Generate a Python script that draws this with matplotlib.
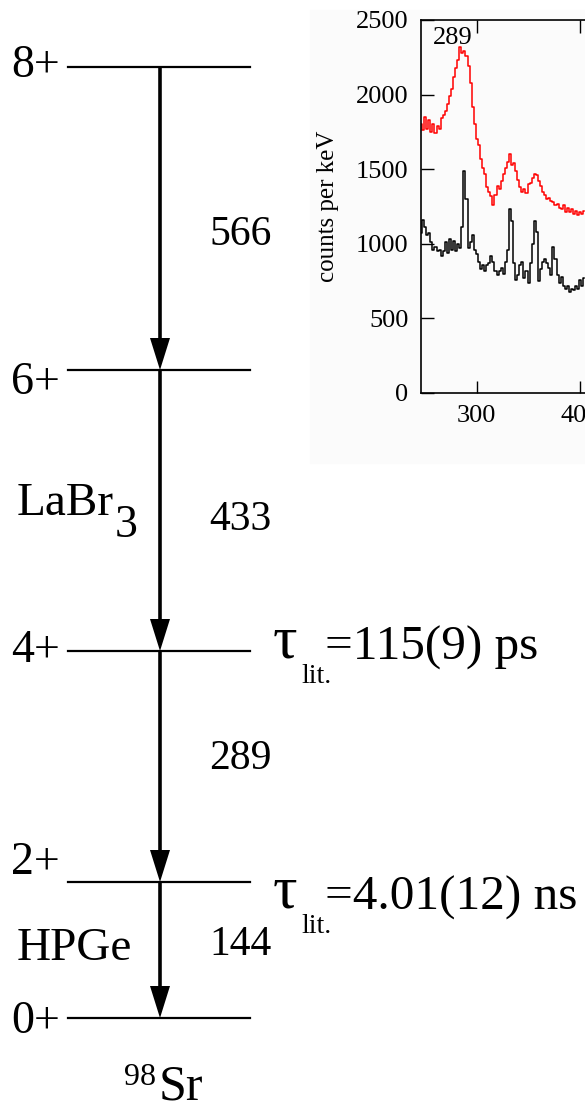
import numpy as np
import matplotlib
matplotlib.use('Agg')
import matplotlib.pyplot as plt
from matplotlib.patches import Rectangle

plt.rcParams['font.family'] = ['Liberation Serif', 'DejaVu Serif']

# level scheme of 98Sr
spins = ['8+', '6+', '4+', '2+', '0+']
gammas = ['566', '433', '289', '144']
lifetimes = ['=115(9) ps', '=4.01(12) ns']   # for 4+ and 2+
detectors = ['LaBr', 'HPGe']

# spectrum (2 keV bins)
energy = np.arange(246, 406, 2)
counts_red = [1800, 1760, 1850, 1770, 1830, 1750, 1800, 1740, 1790, 1770,
              1840, 1860, 1890, 1940, 1990, 2040, 2120, 2180, 2230, 2320,
              2280, 2290, 2260, 2190, 2080, 1920, 1800, 1700, 1660, 1570,
              1510, 1470, 1380, 1350, 1320, 1260, 1330, 1390, 1370, 1420,
              1470, 1510, 1550, 1600, 1530, 1540, 1490, 1430, 1380, 1350,
              1370, 1340, 1400, 1410, 1440, 1470, 1460, 1420, 1390, 1350,
              1330, 1300, 1310, 1290, 1280, 1260, 1270, 1240, 1230, 1260,
              1210, 1240, 1210, 1230, 1200, 1220, 1195, 1210, 1200, 1220]
counts_black = [1070, 1160, 1110, 1060, 1070, 1010, 960, 980, 950, 960,
                920, 950, 1010, 940, 1030, 960, 1020, 950, 1000, 970,
                1110, 1490, 1300, 970, 1010, 1060, 960, 930, 880, 830,
                860, 820, 860, 870, 920, 880, 820, 790, 820, 840,
                800, 880, 960, 1230, 1150, 870, 760, 790, 860, 880,
                770, 820, 740, 870, 1000, 1150, 1080, 750, 830, 880,
                900, 870, 840, 790, 980, 900, 790, 740, 780, 720,
                700, 720, 680, 700, 690, 720, 700, 760, 720, 770]

# layout (pixels)
level_y = [67, 370, 651, 882, 1018]
spin_base = [77, 394, 662, 874, 1033]
gamma_base = [245, 530, 769, 955]
x_arrow = 160

fig = plt.figure(figsize=(5.85, 11.08), dpi=100)
ax = fig.add_axes([0, 0, 1, 1])
ax.set_xlim(0, 585)
ax.set_ylim(1108, 0)
ax.axis('off')

# light background of the pasted spectrum
ax.add_patch(Rectangle((310, 10), 280, 453, color='#fbfbfb', zorder=0))

for k in range(len(spins)):
    ax.plot([68, 250], [level_y[k], level_y[k]], color='black', lw=1.6)
    ax.text(11, spin_base[k], spins[k], fontsize=33, va='baseline', ha='left')

for k in range(len(gammas)):
    y0, y1 = level_y[k], level_y[k + 1]
    ax.plot([x_arrow, x_arrow], [y0, y1 - 25], color='black', lw=2.6,
            solid_capstyle='butt')
    ax.fill([x_arrow - 10, x_arrow + 10, x_arrow], [y1 - 32, y1 - 32, y1],
            color='black', lw=0)
    ax.text(209, gamma_base[k], gammas[k], fontsize=30, va='baseline', ha='left')

# detector labels
ax.text(17, 515, detectors[0], fontsize=34, va='baseline')
ax.text(115, 537, '3', fontsize=33, va='baseline')
ax.text(17, 960, detectors[1], fontsize=34, va='baseline')

# nucleus
ax.text(124, 1085, '98', fontsize=23, va='baseline')
ax.text(159, 1100, 'Sr', fontsize=36, va='baseline')

# lifetimes
for yb, lt in zip([660, 910], lifetimes):
    ax.text(273, yb - 3, '\u03c4', fontsize=44, va='baseline')
    ax.text(301, yb + 23, 'lit.', fontsize=20, va='baseline')
    ax.text(325, yb, lt, fontsize=35.5, va='baseline')

# inset spectrum
ins = fig.add_axes([421 / 585, 1 - 393 / 1108, 180 / 585, 373 / 1108])
ins.step(energy, counts_red, where='mid', color='red', lw=1.1)
ins.step(energy, counts_black, where='mid', color='black', lw=1.1)
ins.set_xlim(246, 420)
ins.set_ylim(0, 2500)
ins.set_xticks([300, 400])
ins.set_yticks([0, 500, 1000, 1500, 2000, 2500])
ins.tick_params(direction='in', length=9, width=1, labelsize=19, pad=9,
                top=True, right=False)
ins.set_ylabel('counts per keV', fontsize=18, labelpad=12)
ins.text(277, 2340, '289', fontsize=19, ha='center', va='baseline')
for s in ins.spines.values():
    s.set_linewidth(1.2)
ins.spines['right'].set_visible(False)
ins.patch.set_alpha(0)

fig.savefig('out.png', dpi=100)
